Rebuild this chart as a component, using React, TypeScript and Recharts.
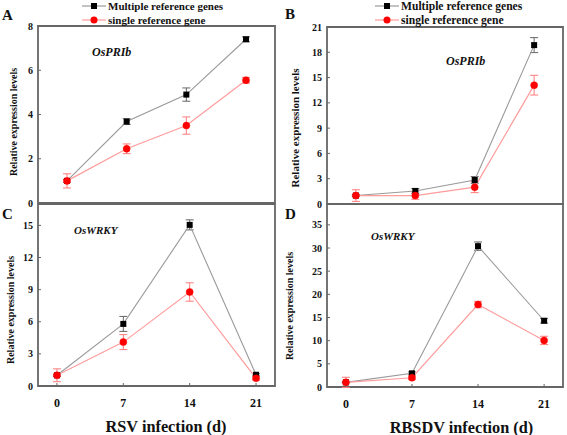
import React from "react";
import { LineChart, Line, XAxis, YAxis, ErrorBar, ReferenceArea, Legend } from "recharts";

const days = [0, 7, 14, 21];

// A: RSV infection, OsPRIb
const rsvPrMulti = [1.0, 3.68, 4.9, 7.4];
const rsvPrMultiErr = [0.06, 0.13, 0.3, 0.11];
const rsvPrSingle = [1.0, 2.45, 3.5, 5.55];
const rsvPrSingleErr = [0.32, 0.22, 0.39, 0.13];

// B: RBSDV infection, OsPRIb
const rbPrMulti = [1.0, 1.55, 2.85, 18.85];
const rbPrMultiErr = [0.1, 0.28, 0.4, 0.89];
const rbPrSingle = [1.0, 1.0, 2.0, 14.1];
const rbPrSingleErr = [0.69, 0.44, 0.65, 1.17];

// C: RSV infection, OsWRKY
const rsvWrMulti = [1.0, 5.8, 15.05, 1.05];
const rsvWrMultiErr = [0.1, 0.7, 0.47, 0.1];
const rsvWrSingle = [1.0, 4.1, 8.78, 0.72];
const rsvWrSingleErr = [0.6, 0.7, 0.86, 0.15];

// D: RBSDV infection, OsWRKY
const rbWrMulti = [1.0, 2.95, 30.4, 14.3];
const rbWrMultiErr = [0.1, 0.3, 0.9, 0.5];
const rbWrSingle = [1.0, 2.0, 17.8, 10.05];
const rbWrSingleErr = [1.1, 0.4, 0.7, 0.9];

const ticksA = [0, 2, 4, 6, 8];
const ticksB = [0, 3, 6, 9, 12, 15, 18, 21];
const ticksC = [0, 3, 6, 9, 12, 15];
const ticksD = [0, 5, 10, 15, 20, 25, 30, 35];

const SERIF = '"Liberation Serif", "Times New Roman", serif';
const FRAME = "#666";
const GRAY_LINE = "#9a9a9a";
const PINK_LINE = "#ff9c9c";
const RED = "#ff0000";

const SquareDot = (props: any) => {
  const { cx, cy, index } = props;
  if (cx == null || cy == null) return null;
  return <rect key={`sq-${index}`} x={cx - 3} y={cy - 3} width={6} height={6} fill="#000" />;
};

const legendContent = (fs: number) => () => (
  <svg width={200} height={28} style={{ display: "block", overflow: "visible" }}>
    <line x1={2} x2={26} y1={6} y2={6} stroke={GRAY_LINE} strokeWidth={1.2} />
    <rect x={11} y={3} width={6} height={6} fill="#000" />
    <text x={28} y={6} dominantBaseline="central" fontFamily={SERIF} fontWeight="bold" fontSize={fs} fill="#111">
      Multiple reference genes
    </text>
    <line x1={2} x2={26} y1={20} y2={20} stroke={PINK_LINE} strokeWidth={1.2} />
    <circle cx={14} cy={20} r={3.5} fill={RED} />
    <text x={28} y={20} dominantBaseline="central" fontFamily={SERIF} fontWeight="bold" fontSize={fs} fill="#111">
      single reference gene
    </text>
  </svg>
);

const yTitle = (cx: number, cy: number, fs: number) => ({
  content: () => (
    <text
      x={cx}
      y={cy}
      transform={`rotate(-90 ${cx} ${cy})`}
      textAnchor="middle"
      dominantBaseline="central"
      fontFamily={SERIF}
      fontWeight="bold"
      fontSize={fs}
      fill="#111"
    >
      Relative expression levels
    </text>
  ),
});

const xTitle = (text: string, cx: number, cy: number) => ({
  content: () => (
    <text x={cx} y={cy} textAnchor="middle" dominantBaseline="central" fontFamily={SERIF} fontWeight="bold" fontSize={16.3} fill="#111">
      {text}
    </text>
  ),
});

function Panel(p: any) {
  const rows = days.map((d, i) => ({
    day: d,
    multi: p.multi[i],
    multiErr: p.multiErr[i],
    single: p.single[i],
    singleErr: p.singleErr[i],
  }));
  return (
    <div style={{ position: "absolute", left: p.left, top: p.top }}>
      <LineChart width={p.width} height={p.height} data={rows} margin={{ top: p.mt, right: p.mr, bottom: 0, left: 0 }}>
        <ReferenceArea
          x1={p.xDomain[0]}
          x2={p.xDomain[1]}
          y1={p.yDomain[0]}
          y2={p.yDomain[1]}
          fill="none"
          stroke={FRAME}
          strokeWidth={1.8}
        />
        <XAxis
          type="number"
          dataKey="day"
          domain={p.xDomain}
          ticks={days}
          allowDataOverflow
          height={p.xh}
          axisLine={false}
          tickSize={-3}
          tickMargin={15}
          tickLine={{ stroke: FRAME }}
          tick={p.showX ? { fontFamily: SERIF, fontWeight: "bold", fontSize: 12, fill: "#111" } : false}
          label={p.xLabel}
        />
        <YAxis
          type="number"
          domain={p.yDomain}
          ticks={p.yTicks}
          allowDataOverflow
          width={p.yw}
          axisLine={false}
          tickSize={-3}
          tickMargin={8}
          tickLine={{ stroke: FRAME }}
          tick={{ fontFamily: SERIF, fontWeight: "bold", fontSize: 10, fill: "#111" }}
          label={p.yLabel}
        />
        <Line
          dataKey="multi"
          stroke={GRAY_LINE}
          strokeWidth={1.1}
          dot={SquareDot}
          activeDot={false}
          isAnimationActive={false}
        >
          <ErrorBar dataKey="multiErr" direction="y" width={4} stroke="#666" strokeWidth={1} />
        </Line>
        <Line
          dataKey="single"
          stroke={PINK_LINE}
          strokeWidth={1.2}
          dot={{ r: 3.5, fill: RED, stroke: RED, strokeWidth: 0.5 }}
          activeDot={false}
          isAnimationActive={false}
        >
          <ErrorBar dataKey="singleErr" direction="y" width={4} stroke="#ff7a7a" strokeWidth={1} />
        </Line>
        {p.legendFs ? (
          <Legend
            layout="vertical"
            align="center"
            verticalAlign="middle"
            wrapperStyle={{ top: 0, left: p.legendLeft, width: 200 }}
            content={legendContent(p.legendFs)}
          />
        ) : null}
      </LineChart>
    </div>
  );
}

const Tag = ({ x, cy, fs, italic, children }: any) => (
  <div
    style={{
      position: "absolute",
      left: x,
      top: cy - 0.51 * fs,
      fontFamily: SERIF,
      fontWeight: "bold",
      fontStyle: italic ? "italic" : "normal",
      fontSize: fs,
      lineHeight: 1,
      color: "#111",
      whiteSpace: "nowrap",
    }}
  >
    {children}
  </div>
);

export default function App() {
  return (
    <div style={{ position: "absolute", left: 0, top: 0, width: 567, height: 435, background: "#fff", overflow: "hidden" }}>
      <Panel
        left={0}
        top={0}
        width={283}
        height={215}
        mt={26}
        mr={8}
        xh={12}
        yw={38}
        xDomain={[-3.4, 24.4]}
        yDomain={[0, 8]}
        yTicks={ticksA}
        multi={rsvPrMulti}
        multiErr={rsvPrMultiErr}
        single={rsvPrSingle}
        singleErr={rsvPrSingleErr}
        yLabel={yTitle(13, 122, 10)}
        legendFs={11}
        legendLeft={80}
      />
      <Panel
        left={280}
        top={0}
        width={287}
        height={215}
        mt={27}
        mr={4}
        xh={11}
        yw={47}
        xDomain={[-3.4, 24.4]}
        yDomain={[0, 21]}
        yTicks={ticksB}
        multi={rbPrMulti}
        multiErr={rbPrMultiErr}
        single={rbPrSingle}
        singleErr={rbPrSingleErr}
        yLabel={yTitle(15, 128, 11)}
        legendFs={11.6}
        legendLeft={93}
      />
      <Panel
        left={0}
        top={195}
        width={283}
        height={240}
        mt={9}
        mr={8}
        xh={49}
        yw={38}
        showX
        xDomain={[-2, 23]}
        yDomain={[0, 17]}
        yTicks={ticksC}
        multi={rsvWrMulti}
        multiErr={rsvWrMultiErr}
        single={rsvWrSingle}
        singleErr={rsvWrSingleErr}
        yLabel={yTitle(10, 115, 10)}
        xLabel={xTitle("RSV infection (d)", 166, 231)}
      />
      <Panel
        left={280}
        top={195}
        width={287}
        height={240}
        mt={9}
        mr={4}
        xh={48}
        yw={47}
        showX
        xDomain={[-2, 23]}
        yDomain={[0, 39.5]}
        yTicks={ticksD}
        multi={rbWrMulti}
        multiErr={rbWrMultiErr}
        single={rbWrSingle}
        singleErr={rbWrSingleErr}
        yLabel={yTitle(9, 111, 10)}
        xLabel={xTitle("RBSDV infection (d)", 181.5, 232)}
      />
      <Tag x={2} cy={16} fs={15}>A</Tag>
      <Tag x={285} cy={15} fs={15}>B</Tag>
      <Tag x={2} cy={215} fs={15}>C</Tag>
      <Tag x={285} cy={215} fs={15}>D</Tag>
      <Tag x={92} cy={52} fs={12} italic>OsPRIb</Tag>
      <Tag x={446} cy={61} fs={12} italic>OsPRIb</Tag>
      <Tag x={74} cy={231} fs={11} italic>OsWRKY</Tag>
      <Tag x={371} cy={237} fs={11} italic>OsWRKY</Tag>
    </div>
  );
}
